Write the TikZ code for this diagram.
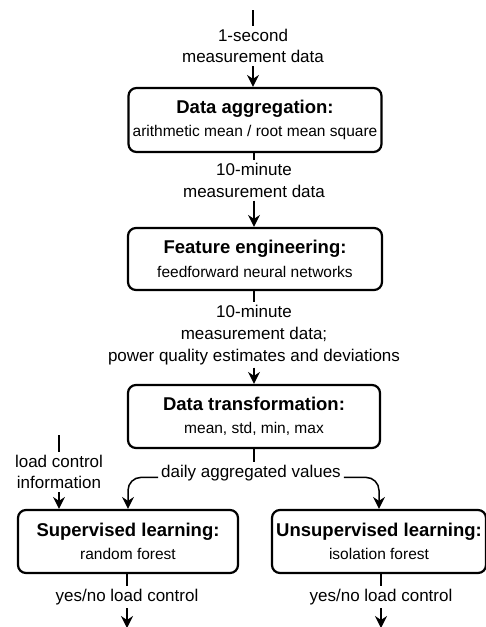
\documentclass[tikz,border=0pt]{standalone}
\usepackage{fontspec}
\setmainfont{Liberation Sans}
\usetikzlibrary{arrows.meta, positioning, calc}
\newcommand{\stagehead}[1]{{\fontsize{18.5}{23.5}\selectfont\bfseries #1}}

\begin{document}
\begin{tikzpicture}[x=1pt, y=-1pt,
    stagebox/.style={draw, line width=2.2pt, rounded corners=8pt, minimum height=63pt,
                     align=center, inner sep=0pt, font=\fontsize{15.5}{23.5}\selectfont},
    flowlabel/.style={align=center, inner sep=3pt, font=\fontsize{17}{21.6}\selectfont},
    link/.style={line width=1.5pt},
    flow/.style={line width=1.5pt, -{Stealth[length=12pt, width=12pt, inset=4pt]}}]
    \useasboundingbox (0,0) rectangle (486,627);

    % Input
    \coordinate (src) at (253,10);
    \node[flowlabel] (raw) at (253,46) {1-second\\measurement data};

    % Stages
    \node[stagebox, minimum width=253pt, minimum height=64pt] (agg) at (255,120)
        {\stagehead{Data aggregation:}\\arithmetic mean / root mean square};
    \node[flowlabel] (tenmin) at (254,180.3) {10-minute\\measurement data};
    \node[stagebox, minimum width=254pt, minimum height=62pt] (feat) at (255,259)
        {\stagehead{Feature engineering:}\\feedforward neural networks};
    \node[flowlabel] (estim) at (254,335) {10-minute\\measurement data;\\power quality estimates and deviations};
    \node[stagebox, minimum width=252pt] (trans) at (254,416.5)
        {\stagehead{Data transformation:}\\mean, std, min, max};
    \node[flowlabel] (daily) at (251,473) {daily aggregated values};

    % Learning
    \coordinate (ctl) at (59,435);
    \node[flowlabel] (loadinfo) at (59,472) {load control\\information};
    \node[stagebox, minimum width=220pt] (sup) at (128,541.5)
        {\stagehead{Supervised learning:}\\random forest};
    \node[stagebox, minimum width=214pt] (unsup) at (379,541.5)
        {\stagehead{Unsupervised learning:}\\isolation forest};
    \node[flowlabel] (supout) at (127,597.3) {yes/no load control};
    \node[flowlabel] (unsupout) at (381,597.3) {yes/no load control};
    \coordinate (supend) at (127,628);
    \coordinate (unsupend) at (381,628);

    % Connectors
    \draw[link] (src) -- (raw.north);
    \draw[flow] (raw.south) -- (raw.south |- agg.north);
    \draw[link] (agg.south -| tenmin.north) -- (tenmin.north);
    \draw[flow] (tenmin.south) -- (tenmin.south |- feat.north);
    \draw[link] (feat.south -| estim.north) -- (estim.north);
    \draw[flow] (estim.south) -- (estim.south |- trans.north);
    \draw[link] (trans.south) -- (trans.south |- daily.north);
    \draw[flow, rounded corners=13pt] (daily.base west) -| (sup.north);
    \draw[flow, rounded corners=13pt] (daily.base east) -| (unsup.north);
    \draw[link] (ctl) -- (loadinfo.north);
    \draw[flow] (loadinfo.south) -- (loadinfo.south |- sup.north);
    \draw[link] (sup.south -| supout.north) -- (supout.north);
    \draw[flow] (supout.south) -- (supend);
    \draw[link] (unsup.south -| unsupout.north) -- (unsupout.north);
    \draw[flow] (unsupout.south) -- (unsupend);
\end{tikzpicture}
\end{document}
